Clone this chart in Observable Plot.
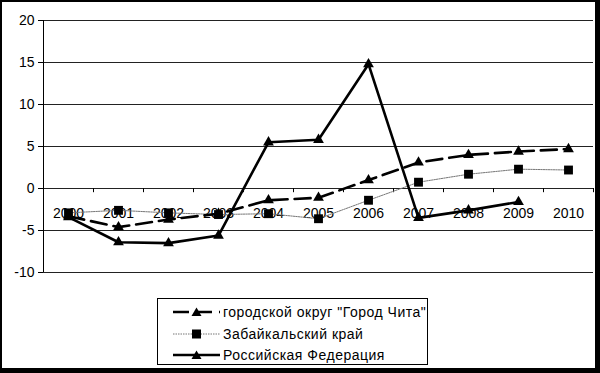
<!DOCTYPE html>
<html><head><meta charset="utf-8">
<script src="https://cdn.jsdelivr.net/npm/d3@7"></script>
<script src="https://cdn.jsdelivr.net/npm/@observablehq/plot@0.6"></script>
<style>
body{margin:0;background:#fff;}
#wrap{position:relative;width:600px;height:373px;overflow:hidden;font-family:"Liberation Sans",Arial,sans-serif;}
#border{position:absolute;left:0;top:0;width:600px;height:373px;box-sizing:border-box;border-left:2px solid #000;border-top:2px solid #000;border-right:5px solid #000;border-bottom:5px solid #000;pointer-events:none;}
#legend{position:absolute;left:157px;top:298px;width:271px;height:67px;box-sizing:border-box;border:1px solid #000;background:#fff;font-size:14px;letter-spacing:0.5px;}
.row{position:absolute;left:15px;height:20px;display:flex;align-items:center;white-space:nowrap;}
.row svg{margin-right:3px;}
</style>
</head><body>
<div id="wrap"></div>
<script>
const years = [2000,2001,2002,2003,2004,2005,2006,2007,2008,2009,2010];
const chita = [-3.3,-4.6,-3.7,-3.0,-1.4,-1.1,1.0,3.1,4.0,4.4,4.7];
const zabaikal = [-2.9,-2.6,-2.9,-3.1,-3.0,-3.6,-1.4,0.75,1.7,2.3,2.2];
const russia = [-3.4,-6.4,-6.5,-5.6,5.5,5.8,14.8,-3.5,-2.6,-1.6,null];
const yTicks = [-10,-5,0,5,10,15,20];
const seriesNames = ["городской округ \"Город Чита\"","Забайкальский край","Российская Федерация"];

const rows = (vals) => years.map((y,i)=>({year:y, value:vals[i]})).filter(d=>d.value!=null);
const dChita = rows(chita), dZab = rows(zabaikal), dRus = rows(russia);
const bounds = d3.range(years[0]-0.5, years[years.length-1]+1, 1);

const chart = Plot.plot({
  width:600, height:373,
  marginLeft:43, marginRight:7, marginTop:20, marginBottom:101,
  style:{fontFamily:"'Liberation Sans', Arial, sans-serif", fontSize:"14px", color:"#000", background:"transparent"},
  x:{type:"linear", domain:[years[0]-0.5, years[years.length-1]+0.5], axis:null},
  y:{domain:[-10,20], ticks:yTicks, tickSize:5, tickPadding:4, tickFormat:d=>String(d), label:null},
  marks:[
    Plot.ruleY(yTicks, {stroke:"#222", strokeWidth:1}),
    Plot.ruleX([years[0]-0.5], {y1:-10, y2:20, stroke:"#000", strokeWidth:1}),
    Plot.ruleX(bounds, {y1:0, y2:-0.5, stroke:"#000"}),
    Plot.text(years, {x:d=>d, y:0, dy:25, text:d=>String(d), fill:"#000"}),
    Plot.line(dZab, {x:"year", y:"value", stroke:"#777", strokeWidth:1, strokeDasharray:"1.5,1"}),
    Plot.line(dChita, {x:"year", y:"value", stroke:"#000", strokeWidth:2.6, strokeDasharray:"16,7"}),
    Plot.line(dRus, {x:"year", y:"value", stroke:"#000", strokeWidth:2.6}),
    Plot.dot(dZab, {x:"year", y:"value", symbol:"square", r:5, fill:"#000", stroke:"none"}),
    Plot.dot(dChita, {x:"year", y:"value", symbol:"triangle", r:4, fill:"#000", stroke:"none"}),
    Plot.dot(dRus, {x:"year", y:"value", symbol:"triangle", r:4, fill:"#000", stroke:"none"})
  ]
});
const wrap = document.getElementById("wrap");
wrap.appendChild(chart);

const legend = document.createElement("div");
legend.id = "legend";
const sym = [
  `<svg width="47" height="12"><line x1="0" y1="6" x2="47" y2="6" stroke="#000" stroke-width="2.6" stroke-dasharray="16,7"/><path d="M23.5,1.5 L28.5,10 L18.5,10Z" fill="#000"/></svg>`,
  `<svg width="47" height="12"><line x1="0" y1="6" x2="47" y2="6" stroke="#777" stroke-width="1" stroke-dasharray="1.5,1"/><rect x="19" y="1.5" width="9" height="9" fill="#000"/></svg>`,
  `<svg width="47" height="12"><line x1="0" y1="6" x2="47" y2="6" stroke="#000" stroke-width="2.6"/><path d="M23.5,1.5 L28.5,10 L18.5,10Z" fill="#000"/></svg>`
];
const tops = [3, 25, 46];
seriesNames.forEach((n,i)=>{
  const r = document.createElement("div");
  r.className = "row";
  r.style.top = tops[i]+"px";
  r.innerHTML = sym[i] + `<span>${n.replace(/"/g,"&quot;")}</span>`;
  legend.appendChild(r);
});
wrap.appendChild(legend);
const b = document.createElement("div"); b.id="border"; wrap.appendChild(b);
</script>
</body></html>
